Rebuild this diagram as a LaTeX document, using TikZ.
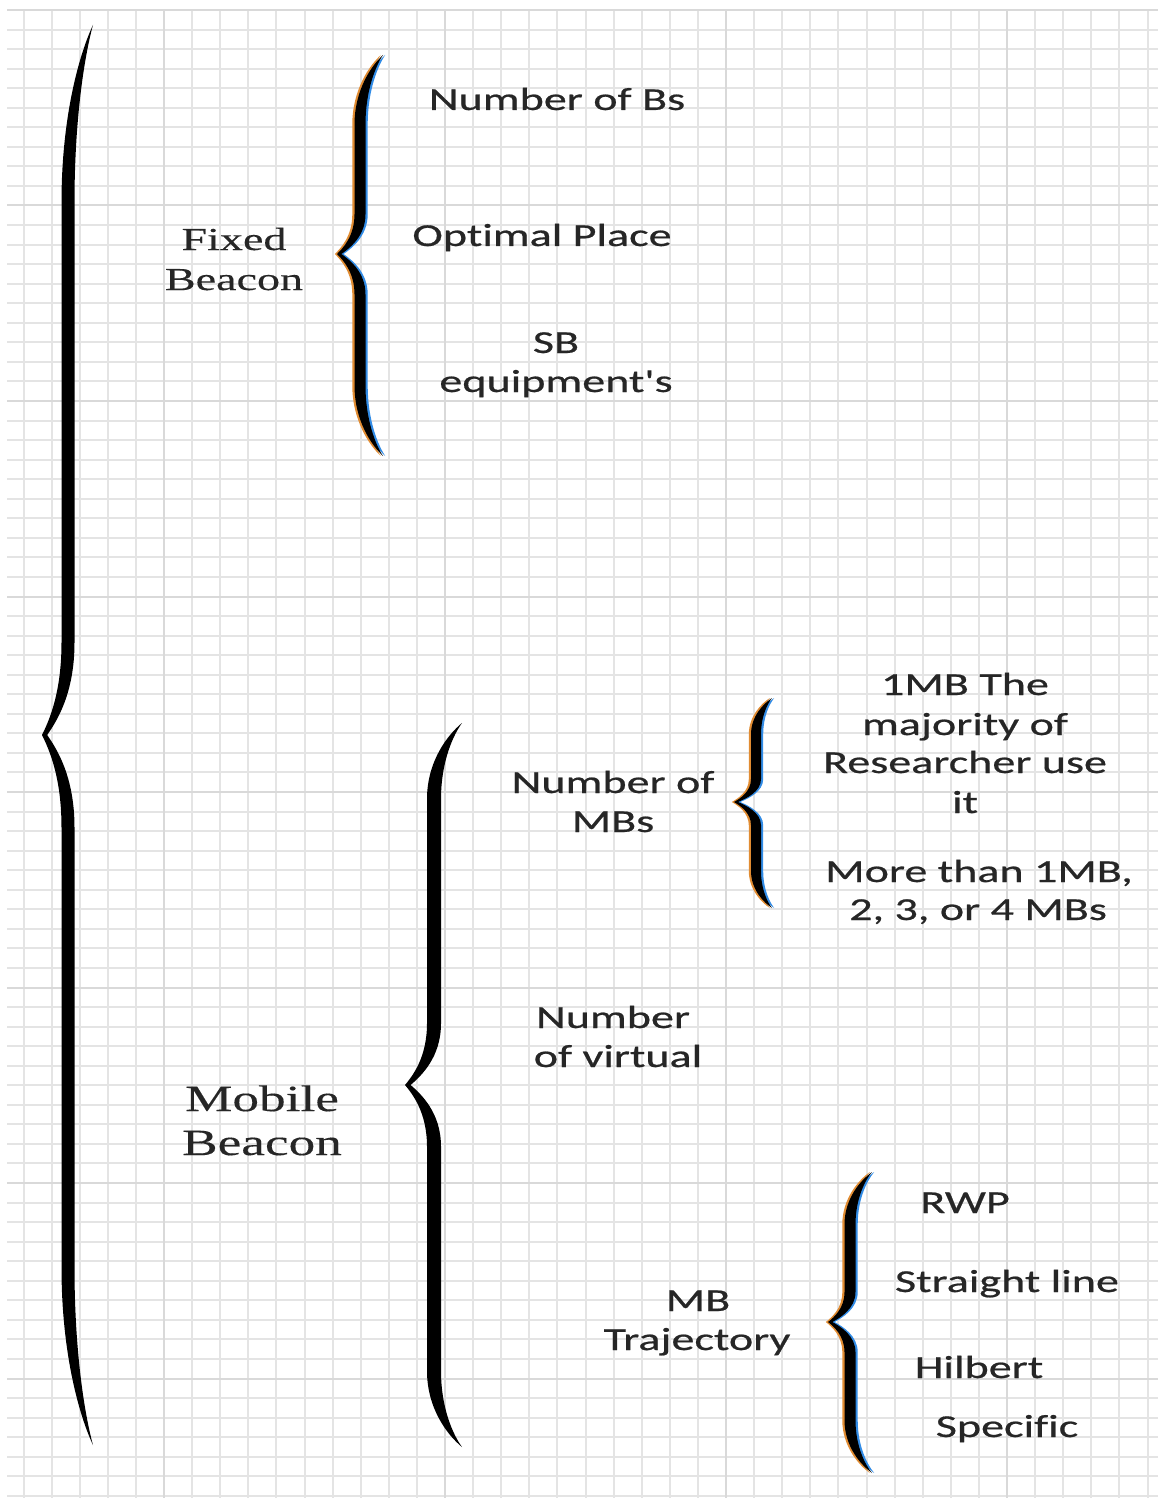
\documentclass[tikz,border=0pt]{standalone}
\usepackage{fontspec}
\newfontfamily\calfont[FakeStretch=1.44, FakeBold=0.6, Ligatures=NoCommon]{Carlito}
\newfontfamily\tnrfont[FakeStretch=1.44, FakeBold=0.3, Ligatures=NoCommon]{Liberation Serif}
\definecolor{gridminor}{gray}{0.895}
\definecolor{gridmajor}{gray}{0.85}
\definecolor{fringeO}{RGB}{225,140,50}
\definecolor{fringeB}{RGB}{50,140,230}
\definecolor{txt}{gray}{0.15}
% brace outline: #1 xt, #2 yt, #3 spine x, #4 tip x, #5 tip y, #6 bottom y, #7 half width, #8 hook frac, #9 tip frac
\newcommand\brc[9]{%
 (#1,#2) .. controls ({#1-0.4*(#1-(#3-#7))},{#2+0.15*#8*(#5-#2)}) and ({#3-#7},{#2+0.5*#8*(#5-#2)}) .. ({#3-#7},{#2+#8*(#5-#2)})
 -- ({#3-#7},{#5-#9*(#5-#2)})
 .. controls ({#3-#7},{#5-0.45*#9*(#5-#2)}) and ({#4+0.35*(#3-#7-#4)},{#5-0.15*#9*(#5-#2)}) .. (#4,#5)
 .. controls ({#4+0.35*(#3-#7-#4)},{#5+0.15*#9*(#6-#5)}) and ({#3-#7},{#5+0.45*#9*(#6-#5)}) .. ({#3-#7},{#5+#9*(#6-#5)})
 -- ({#3-#7},{#6-#8*(#6-#5)})
 .. controls ({#3-#7},{#6-0.5*#8*(#6-#5)}) and ({#1-0.4*(#1-(#3-#7))},{#6-0.15*#8*(#6-#5)}) .. (#1,#6)
 .. controls ({#1-0.4*(#1-(#3+#7))},{#6-0.15*#8*(#6-#5)}) and ({#3+#7},{#6-0.5*#8*(#6-#5)}) .. ({#3+#7},{#6-#8*(#6-#5)})
 -- ({#3+#7},{#5+#9*(#6-#5)})
 .. controls ({#3+#7},{#5+0.45*#9*(#6-#5)}) and ({#4+0.8*#7+0.35*(#3+#7-#4-0.8*#7)},{#5+0.15*#9*(#6-#5)}) .. ({#4+0.8*#7},#5)
 .. controls ({#4+0.8*#7+0.35*(#3+#7-#4-0.8*#7)},{#5-0.15*#9*(#5-#2)}) and ({#3+#7},{#5-0.45*#9*(#5-#2)}) .. ({#3+#7},{#5-#9*(#5-#2)})
 -- ({#3+#7},{#2+#8*(#5-#2)})
 .. controls ({#3+#7},{#2+0.5*#8*(#5-#2)}) and ({#1-0.4*(#1-(#3+#7))},{#2+0.15*#8*(#5-#2)}) .. (#1,#2) -- cycle}
\newcommand\fringebrace[9]{%
 \fill[fringeO, xshift=-1.1pt] \brc{#1}{#2}{#3}{#4}{#5}{#6}{#7}{#8}{#9};
 \fill[fringeB, xshift=1.1pt] \brc{#1}{#2}{#3}{#4}{#5}{#6}{#7}{#8}{#9};
 \fill[black] \brc{#1}{#2}{#3}{#4}{#5}{#6}{#7}{#8}{#9};}
\tikzset{
 minorline/.style={gridminor, line width=1pt},
 majorline/.style={gridmajor, line width=1pt},
 cal/.style={font=\calfont\fontsize{16pt}{19.5pt}\selectfont, text=txt, inner sep=0pt, anchor=base},
 tnr/.style={font=\tnrfont\fontsize{16pt}{20pt}\selectfont, text=txt, inner sep=0pt, anchor=base},
 tnrL/.style={font=\tnrfont\fontsize{18.5pt}{22.5pt}\selectfont, text=txt, inner sep=0pt, anchor=base}
}
\begin{document}
\begin{tikzpicture}[x=0.5pt, y=-0.5pt]
\useasboundingbox (0,0) rectangle (1158,1498);
\fill[white] (0,0) rectangle (1158,1498);
% grid
\foreach \k in {0,...,76} \draw[minorline] (7,{10+19.55*\k}) -- (1158,{10+19.55*\k});
\foreach \k in {-5,...,35} \draw[minorline] ({164+28.1*\k},10) -- ({164+28.1*\k},1498);
\foreach \k in {0,...,7} \draw[majorline] (7,{10+195.5*\k}) -- (1158,{10+195.5*\k});
\foreach \k in {0,...,3} \draw[majorline] ({164+281*\k},10) -- ({164+281*\k},1498);
% thick braces
\fill[black] \brc{93}{25}{68}{42}{735}{1445}{6.5}{0.25}{0.13};
\fill[black] \brc{462}{723}{434}{405}{1085}{1447}{7}{0.21}{0.17};
% glyph braces
\fringebrace{383}{55}{360}{337}{254}{456}{5.5}{0.35}{0.2}
\fringebrace{772}{698}{756}{734}{802}{908}{5}{0.35}{0.22}
\fringebrace{872}{1172}{850}{828}{1322}{1473}{5.5}{0.35}{0.2}
% texts
\node[tnr] (fx1) at (234,250) {Fixed};
\node[tnr] (fx2) at (234,290) {Beacon};
\node[tnrL] (mb1) at (262,1111) {Mobile};
\node[tnrL] (mb2) at (262,1155) {Beacon};
\node[cal] (nbs) at (557,110) {Number of Bs};
\node[cal] (opt) at (542,246) {Optimal Place};
\node[cal] (sb1) at (556,353) {SB};
\node[cal] (sb2) at (556,392) {equipment's};
\node[cal] (m1) at (965,695) {1MB The};
\node[cal] (m2) at (965,735) {majority of};
\node[cal] (m3) at (965,773) {Researcher use};
\node[cal] (m4) at (965,813) {it};
\node[cal] (m5) at (979,882) {More than 1MB,};
\node[cal] (m6) at (978,920) {2, 3, or 4 MBs};
\node[cal] (nm1) at (613,793) {Number of};
\node[cal] (nm2) at (613,832) {MBs};
\node[cal] (nv1) at (613,1028) {Number};
\node[cal] (nv2) at (618,1067) {of virtual};
\node[cal] (tr1) at (698,1311) {MB};
\node[cal] (tr2) at (697,1350) {Trajectory};
\node[cal] (rwp) at (965,1213) {RWP};
\node[cal] (sl) at (1007,1292) {Straight line};
\node[cal] (hil) at (979,1378) {Hilbert};
\node[cal] (spe) at (1007,1437) {Specific};
\end{tikzpicture}
\end{document}
